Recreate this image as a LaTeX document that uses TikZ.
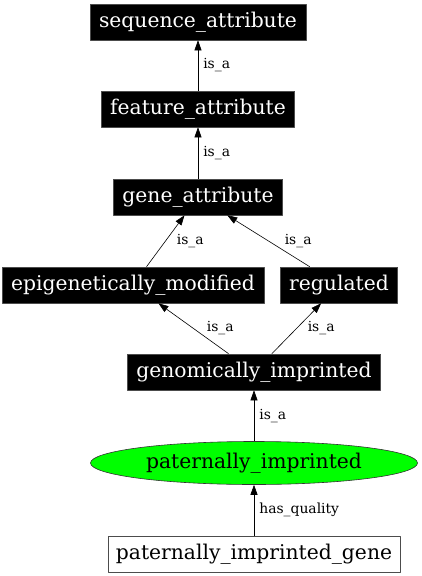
\documentclass[tikz,border=0pt]{standalone}
\usepackage{fontspec}
\setmainfont{DejaVu Serif}
\usetikzlibrary{arrows.meta,shapes.geometric}
\tikzset{
	term/.style={fill=black,draw=black!70,text=white,minimum height=36pt,inner xsep=9pt,inner ysep=0pt,font=\fontsize{20.3}{24}\selectfont},
	plain/.style={draw=black!70,fill=white,minimum height=36pt,inner xsep=8pt,inner ysep=0pt,font=\fontsize{20.3}{24}\selectfont},
	quality/.style={ellipse,draw=black!80,fill=green,minimum width=327pt,minimum height=43pt,inner sep=0pt,font=\fontsize{20.3}{24}\selectfont},
	lbl/.style={font=\fontsize{13.9}{16}\selectfont,inner sep=0pt,anchor=west},
}
\begin{document}
\begin{tikzpicture}[x=1pt,y=-1pt,line join=round,semithick,>={Triangle[length=10pt,width=7pt]}]
		\useasboundingbox (0,0) rectangle (422,576);
		% Knoten
		\node[term] (seq) at (198,22) {sequence\_attribute};
		\node[term] (feat) at (198,109) {feature\_attribute};
		\node[term] (gene) at (198,197) {gene\_attribute};
		\node[term] (epi) at (133,285) {epigenetically\_modified};
		\node[term] (reg) at (339,285) {regulated};
		\node[term] (imp) at (254,372) {genomically\_imprinted};
		\node[quality] (pat) at (254,463) {paternally\_imprinted};
		\node[plain] (pgene) at (254,554) {paternally\_imprinted\_gene};
		% Kanten
		\draw[->] (feat)--(seq) node[lbl,midway,xshift=5pt]{is\_a};
		\draw[->] (gene)--(feat) node[lbl,midway,xshift=5pt]{is\_a};
		\draw[->] (epi)--(gene) node[lbl,midway,xshift=11pt]{is\_a};
		\draw[->] (reg)--(gene) node[lbl,midway,xshift=16pt]{is\_a};
		\draw[->] (imp)--(epi) node[lbl,midway,xshift=13pt]{is\_a};
		\draw[->] (imp)--(reg) node[lbl,midway,xshift=11pt]{is\_a};
		\draw[->] (pat)--(imp) node[lbl,midway,xshift=5pt]{is\_a};
		\draw[->] (pgene)--(pat) node[lbl,midway,xshift=5pt]{has\_quality};
		\end{tikzpicture}
\end{document}
